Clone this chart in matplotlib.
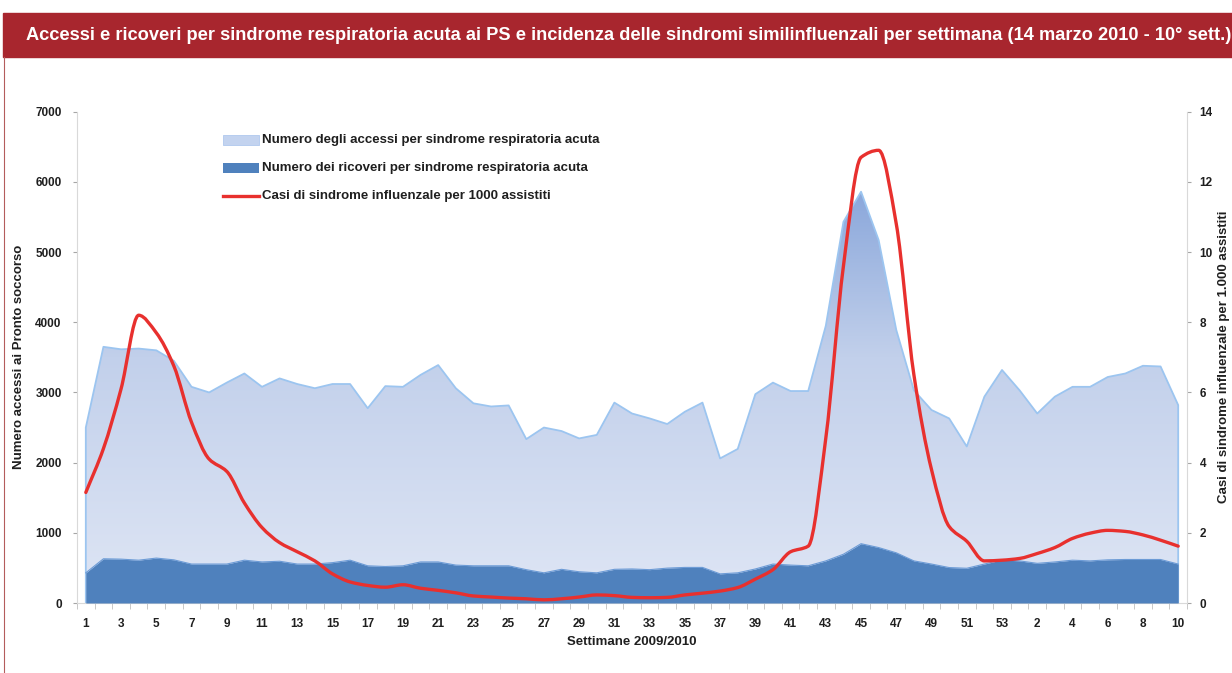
import numpy as np
import matplotlib
matplotlib.use("Agg")
from matplotlib import pyplot as plt
from matplotlib.colors import LinearSegmentedColormap
from matplotlib.patches import Rectangle, PathPatch
from matplotlib.lines import Line2D
from matplotlib.path import Path

# weeks 2009 (1..53) then 2010 (1..10)
weeks = list(range(1, 54)) + list(range(1, 11))

# numero degli accessi per sindrome respiratoria acuta (left axis)
accessi = [2500, 3650, 3615, 3625, 3600, 3450, 3080, 3000, 3140, 3270,
           3080, 3200, 3120, 3060, 3120, 3120, 2775, 3090, 3080, 3250,
           3390, 3060, 2845, 2800, 2815, 2335, 2500, 2450, 2345, 2395,
           2855, 2700, 2630, 2550, 2725, 2855, 2060, 2195, 2975, 3140,
           3020, 3020, 3950, 5430, 5860, 5170, 3890, 3030, 2750, 2630,
           2230, 2940, 3320, 3030, 2700, 2940, 3080, 3080, 3220, 3270,
           3380, 3370, 2820]

# numero dei ricoveri per sindrome respiratoria acuta (left axis)
ricoveri = [430, 630, 625, 610, 640, 615, 555, 555, 555, 610,
            585, 595, 555, 555, 575, 610, 530, 520, 530, 585,
            585, 540, 530, 530, 530, 475, 430, 480, 445, 430,
            480, 485, 475, 497, 507, 507, 415, 430, 485, 555,
            540, 530, 600, 695, 845, 790, 715, 600, 555, 505,
            495, 555, 615, 600, 565, 585, 610, 600, 615, 620,
            620, 620, 555]

# casi di sindrome influenzale per 1000 assistiti (right axis)
casi_ili = [3.15, 4.4, 6.1, 8.2, 7.7, 6.75, 5.15, 4.1, 3.75, 2.85,
            2.15, 1.72, 1.46, 1.2, 0.83, 0.6, 0.5, 0.45, 0.52, 0.42,
            0.36, 0.29, 0.2, 0.17, 0.14, 0.12, 0.09, 0.12, 0.17, 0.23,
            0.21, 0.16, 0.15, 0.16, 0.23, 0.28, 0.34, 0.44, 0.68, 0.95,
            1.46, 1.62, 4.7, 9.6, 12.7, 12.9, 10.8, 6.5, 3.8, 2.18,
            1.76, 1.2, 1.22, 1.27, 1.41, 1.58, 1.84, 1.99, 2.07, 2.04,
            1.94, 1.79, 1.62]

title = ("Accessi e ricoveri per sindrome respiratoria acuta ai PS e incidenza "
         "delle sindromi similinfluenzali per settimana (14 marzo 2010 - 10° sett.)")
legend_labels = ["Numero degli accessi per sindrome respiratoria acuta",
                 "Numero dei ricoveri per sindrome respiratoria acuta",
                 "Casi di sindrome influenzale per 1000 assistiti"]

plt.rcParams['font.family'] = ['Liberation Sans', 'DejaVu Sans']
W, H = 1232, 673
fig = plt.figure(figsize=(W / 100, H / 100), dpi=100)
TXT = '#1F1F1F'


def fx(px):
    return px / W


def fy(py):
    return 1 - py / H


def smooth_path(xs, ys):
    # smoothed line: monotone cubic bezier segments through every data point
    xs = np.asarray(xs, float)
    ys = np.asarray(ys, float)
    d = np.diff(ys) / np.diff(xs)
    m = np.zeros_like(ys)
    m[0], m[-1] = d[0], d[-1]
    for i in range(1, len(ys) - 1):
        if d[i - 1] * d[i] > 0:
            m[i] = 2 / (1 / d[i - 1] + 1 / d[i])
    verts = [(xs[0], ys[0])]
    codes = [Path.MOVETO]
    for i in range(len(xs) - 1):
        h = (xs[i + 1] - xs[i]) / 3
        verts += [(xs[i] + h, ys[i] + m[i] * h),
                  (xs[i + 1] - h, ys[i + 1] - m[i + 1] * h),
                  (xs[i + 1], ys[i + 1])]
        codes += [Path.CURVE4] * 3
    return Path(verts, codes)


# red title band
fig.add_artist(Rectangle((fx(3), fy(57)), fx(W - 3), 44 / H,
                         color='#A8262E', transform=fig.transFigure))
fig.add_artist(Line2D([fx(3.5), fx(3.5)], [fy(57), 0], color='#B45C5C', lw=0.8))
t = fig.text(fx(26), fy(35), title, color='white', fontweight='bold', fontsize=12,
             family=['Liberation Sans Narrow', 'Liberation Sans', 'DejaVu Sans'], va='center')
renderer = fig.canvas.get_renderer()
t.set_fontsize(12 * 1200 / t.get_window_extent(renderer).width)

ax = fig.add_axes([fx(77), fy(603), (1187 - 77) / W, (603 - 111.7) / H])
x = np.arange(len(weeks))

# accessi: gradient area
poly = ax.fill_between(x, accessi, color='none', lw=0)
cmap = LinearSegmentedColormap.from_list(
    'acc', [(0, '#DFE6F5'), (0.5, '#C2D0EB'), (0.84, '#8AA7DB'), (1, '#7896D2')])
grad = np.linspace(0, 1, 256).reshape(-1, 1)
im = ax.imshow(grad, cmap=cmap, origin='lower', aspect='auto',
               extent=[-0.5, len(weeks) - 0.5, 0, 7000], zorder=1)
im.set_clip_path(poly.get_paths()[0], transform=ax.transData)
ax.plot(np.r_[0, x, x[-1]], np.r_[0, accessi, 0], color='#9CC5F0', lw=1.3, zorder=2)

# ricoveri: solid area
ax.fill_between(x, ricoveri, color='#4F81BD', lw=0, zorder=3)
ax.plot(x, ricoveri, color='#6C9BD6', lw=0.8, zorder=3)

ax.set_xlim(-0.5, len(weeks) - 0.5)
ax.set_ylim(0, 7000)
ax.set_yticks(range(0, 7001, 1000))
ax.set_xticks(x[::2])
ax.set_xticklabels([str(weeks[i]) for i in x[::2]])
ax.set_xticks(np.arange(-0.5, len(weeks), 1), minor=True)
ax.tick_params(axis='x', which='major', length=0, pad=11)
ax.tick_params(axis='x', which='minor', length=4, color='#BFBFBF')
ax.tick_params(axis='y', length=3, color='#A6A6A6', pad=8)
for lab in ax.get_xticklabels() + ax.get_yticklabels():
    lab.set_fontweight('bold')
    lab.set_fontsize(8.5)
    lab.set_color(TXT)
for s in ['top', 'right']:
    ax.spines[s].set_visible(False)
for s in ['left', 'bottom']:
    ax.spines[s].set_color('#D9D9D9')

# influenza line on right axis
ax2 = ax.twinx()
ax2.add_patch(PathPatch(smooth_path(x, casi_ili), fill=False, edgecolor='#E8302E',
                        lw=2.4, joinstyle='round', capstyle='round', zorder=5))
ax2.set_ylim(0, 14)
ax2.set_yticks(range(0, 15, 2))
ax2.tick_params(axis='y', length=3, color='#A6A6A6', pad=6)
for lab in ax2.get_yticklabels():
    lab.set_fontweight('bold')
    lab.set_fontsize(8.5)
    lab.set_color(TXT)
for s in ['top', 'left', 'bottom']:
    ax2.spines[s].set_visible(False)
ax2.spines['right'].set_color('#D9D9D9')

# legend drawn by hand to match the source layout
lx, lw_ = 0.1315, 0.0325
rows = [0.942, 0.885, 0.828]
ax2.add_patch(Rectangle((lx, rows[0] - 0.01), lw_, 0.02, transform=ax2.transAxes,
                        facecolor='#C3D3EF', edgecolor='#B0C8EE', lw=0.6))
ax2.add_patch(Rectangle((lx, rows[1] - 0.01), lw_, 0.02, transform=ax2.transAxes,
                        facecolor='#4F81BD', lw=0))
ax2.plot([lx, lx + lw_], [rows[2], rows[2]], transform=ax2.transAxes,
         color='#E8302E', lw=2.4)
for r, lab in zip(rows, legend_labels):
    ax2.text(lx + lw_ + 0.003, r, lab, transform=ax2.transAxes, va='center',
             fontsize=9.5, fontweight='bold', color=TXT)

fig.text(fx(632), fy(642), "Settimane 2009/2010", ha='center', va='center',
         fontsize=9.5, fontweight='bold', color=TXT)
fig.text(fx(19), fy(357), "Numero accessi ai Pronto soccorso", rotation=90,
         ha='center', va='center', fontsize=9.5, fontweight='bold', color=TXT)
fig.text(fx(1224), fy(357), "Casi di sindrome influenzale per 1.000 assistiti", rotation=90,
         ha='center', va='center', fontsize=9.5, fontweight='bold', color=TXT)

fig.savefig("out.png", dpi=100)
